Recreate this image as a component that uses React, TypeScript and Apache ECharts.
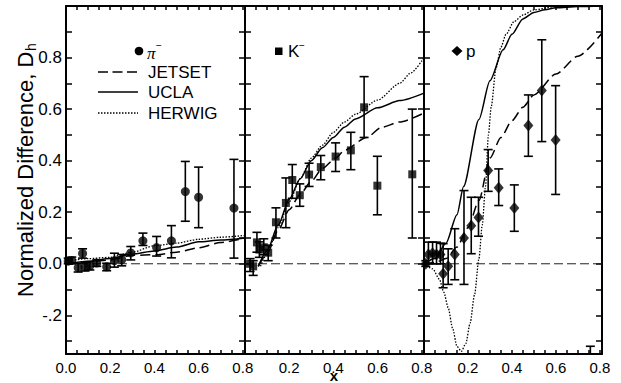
import React, { useEffect, useRef } from 'react';
import * as echarts from 'echarts';

const X_MAX = 0.81;
const Y_MIN = -0.35;
const Y_MAX = 1.0;

const xTickValues = [0, 0.05, 0.1, 0.15, 0.2, 0.25, 0.3, 0.35, 0.4, 0.45, 0.5, 0.55, 0.6, 0.65, 0.7, 0.75, 0.8];
const xLabelsFirst = [0, 0.2, 0.4, 0.6, 0.8];
const xLabelsOther = [0.2, 0.4, 0.6, 0.8];
const yTickValues = [-0.3, -0.2, -0.1, 0, 0.1, 0.2, 0.3, 0.4, 0.5, 0.6, 0.7, 0.8, 0.9];
const yLabelValues = [-0.2, 0, 0.2, 0.4, 0.6, 0.8];

// pi- data
const piX = [0.01, 0.026, 0.055, 0.075, 0.086, 0.108, 0.139, 0.184, 0.219, 0.252, 0.293, 0.348, 0.41, 0.477, 0.54, 0.6, 0.76];
const piY = [0.01, 0.013, -0.015, 0.04, -0.012, -0.008, 0.003, -0.012, 0.012, 0.016, 0.042, 0.089, 0.063, 0.089, 0.28, 0.258, 0.216];
const piLo = [0.0, 0.0, -0.032, 0.022, -0.028, -0.024, -0.01, -0.027, -0.013, -0.008, 0.015, 0.071, 0.03, 0.023, 0.165, 0.14, 0.022];
const piHi = [0.022, 0.026, 0.002, 0.058, 0.004, 0.008, 0.015, 0.002, 0.041, 0.036, 0.067, 0.119, 0.106, 0.148, 0.397, 0.375, 0.405];

// K- data
const kX = [0.023, 0.037, 0.054, 0.065, 0.085, 0.105, 0.14, 0.185, 0.214, 0.248, 0.29, 0.343, 0.41, 0.479, 0.539, 0.599, 0.757];
const kY = [0.0, -0.01, 0.083, 0.055, 0.064, 0.043, 0.161, 0.236, 0.325, 0.266, 0.346, 0.375, 0.416, 0.44, 0.607, 0.303, 0.347];
const kLo = [-0.03, -0.045, 0.045, 0.025, 0.035, 0.012, 0.1, 0.14, 0.254, 0.223, 0.3, 0.326, 0.358, 0.365, 0.49, 0.19, 0.1];
const kHi = [0.02, 0.012, 0.122, 0.085, 0.097, 0.072, 0.217, 0.333, 0.385, 0.31, 0.39, 0.42, 0.469, 0.51, 0.726, 0.417, 0.6];

// p data
const pX = [0.008, 0.02, 0.039, 0.057, 0.075, 0.087, 0.11, 0.14, 0.182, 0.215, 0.248, 0.292, 0.34, 0.411, 0.475, 0.536, 0.599, 0.757];
const pY = [0.0, 0.036, 0.041, 0.036, 0.036, -0.039, -0.01, 0.036, 0.1, 0.148, 0.18, 0.362, 0.295, 0.216, 0.536, 0.672, 0.48, -0.4];
const pLo = [-0.01, 0.0, 0.0, 0.0, 0.0, -0.093, -0.08, -0.062, -0.08, 0.039, 0.107, 0.281, 0.226, 0.126, 0.417, 0.474, 0.269, -0.5];
const pHi = [0.012, 0.084, 0.084, 0.084, 0.08, 0.078, 0.058, 0.136, 0.284, 0.258, 0.258, 0.443, 0.368, 0.306, 0.655, 0.869, 0.691, -0.32];

// model curves [x, y]
const piJetset = [[0, 0], [0.1, 0.008], [0.2, 0.015], [0.3, 0.033], [0.41, 0.035], [0.5, 0.045], [0.6, 0.062], [0.7, 0.083], [0.81, 0.1]];
const piUcla = [[0, 0], [0.1, 0.01], [0.2, 0.02], [0.3, 0.038], [0.4, 0.05], [0.5, 0.065], [0.6, 0.085], [0.7, 0.092], [0.81, 0.1]];
const piHerwig = [[0, 0.01], [0.1, 0.02], [0.2, 0.025], [0.3, 0.045], [0.4, 0.07], [0.5, 0.08], [0.6, 0.095], [0.7, 0.103], [0.81, 0.11]];

const kJetset = [[0.06, -0.01], [0.1, 0.04], [0.15, 0.13], [0.2, 0.21], [0.25, 0.27], [0.3, 0.32], [0.35, 0.37], [0.41, 0.41], [0.45, 0.44], [0.55, 0.49], [0.62, 0.53], [0.7, 0.55], [0.81, 0.585]];
const kUcla = [[0.06, -0.01], [0.1, 0.05], [0.15, 0.15], [0.2, 0.25], [0.25, 0.33], [0.3, 0.4], [0.35, 0.45], [0.4, 0.49], [0.45, 0.53], [0.5, 0.562], [0.6, 0.605], [0.7, 0.633], [0.81, 0.662]];
const kHerwig = [[0.07, -0.01], [0.1, 0.04], [0.15, 0.14], [0.2, 0.24], [0.25, 0.33], [0.3, 0.41], [0.35, 0.46], [0.4, 0.51], [0.45, 0.55], [0.5, 0.58], [0.6, 0.635], [0.7, 0.7], [0.75, 0.74], [0.81, 0.8]];

const pJetset = [[0, 0], [0.05, 0.005], [0.1, 0.02], [0.15, 0.065], [0.2, 0.14], [0.25, 0.245], [0.3, 0.41], [0.35, 0.49], [0.4, 0.555], [0.45, 0.607], [0.5, 0.655], [0.6, 0.736], [0.7, 0.805], [0.81, 0.895]];
const pUcla = [[0, 0], [0.05, 0.02], [0.1, 0.08], [0.15, 0.19], [0.18, 0.3], [0.25, 0.56], [0.3, 0.71], [0.36, 0.83], [0.4, 0.89], [0.45, 0.95], [0.5, 0.975], [0.55, 0.985], [0.6, 0.993], [0.7, 0.998], [0.81, 1.0]];
const pHerwig = [[0, 0], [0.04, -0.02], [0.07, -0.06], [0.09, -0.11], [0.11, -0.17], [0.13, -0.25], [0.15, -0.32], [0.17, -0.34], [0.19, -0.31], [0.21, -0.23], [0.23, -0.12], [0.25, 0.02], [0.265, 0.15], [0.28, 0.3], [0.293, 0.5], [0.306, 0.61], [0.328, 0.76], [0.35, 0.84], [0.373, 0.89], [0.41, 0.94], [0.45, 0.965], [0.5, 0.985], [0.6, 0.998], [0.81, 1.0]];

const PANEL_LEFT = [66, 245, 424];
const PANEL_WIDTH = [179, 179, 178];
const PANEL_TOP = 6;
const PANEL_HEIGHT = 348;
const FONT = '"Liberation Sans", Arial, Helvetica, sans-serif';

function fmtY(v: number) {
  if (Math.abs(v + 0.2) < 1e-6) return '-.2';
  return v.toFixed(1);
}

function buildOption() {
  const panels = [
    { x: piX, y: piY, lo: piLo, hi: piHi, symbol: 'circle', size: 9, jet: piJetset, ucla: piUcla, her: piHerwig },
    { x: kX, y: kY, lo: kLo, hi: kHi, symbol: 'rect', size: 8, jet: kJetset, ucla: kUcla, her: kHerwig },
    { x: pX, y: pY, lo: pLo, hi: pHi, symbol: 'diamond', size: [10, 12], jet: pJetset, ucla: pUcla, her: pHerwig },
  ];
  const grid: any[] = [];
  const xAxis: any[] = [];
  const yAxis: any[] = [];
  const series: any[] = [];
  const axisLine = { show: true, onZero: false, lineStyle: { color: '#000', width: 2 } };
  panels.forEach((p, i) => {
    grid.push({ left: PANEL_LEFT[i], top: PANEL_TOP, width: PANEL_WIDTH[i], height: PANEL_HEIGHT });
    xAxis.push({
      type: 'value', gridIndex: i, position: 'bottom', min: 0, max: X_MAX,
      axisLine, splitLine: { show: false },
      axisTick: { show: true, inside: true, length: 4, customValues: xTickValues, lineStyle: { color: '#000', width: 1.5 } },
      axisLabel: { show: true, customValues: i === 0 ? xLabelsFirst : xLabelsOther, formatter: (v: number) => v.toFixed(1), color: '#000', fontSize: 15, fontFamily: FONT, margin: 6, showMaxLabel: true, showMinLabel: true },
    });
    xAxis.push({
      type: 'value', gridIndex: i, position: 'top', min: 0, max: X_MAX,
      axisLine, splitLine: { show: false },
      axisTick: { show: true, inside: true, length: 4, customValues: xTickValues, lineStyle: { color: '#000', width: 1.5 } },
      axisLabel: { show: false },
    });
    yAxis.push({
      type: 'value', gridIndex: i, position: 'left', min: Y_MIN, max: Y_MAX,
      axisLine, splitLine: { show: false },
      axisTick: { show: true, inside: true, length: 6, customValues: yTickValues, lineStyle: { color: '#000', width: 1.5 } },
      axisLabel: { show: i === 0, customValues: yLabelValues, formatter: fmtY, color: '#000', fontSize: 17, fontFamily: FONT, margin: 4 },
    });
    yAxis.push({
      type: 'value', gridIndex: i, position: 'right', min: Y_MIN, max: Y_MAX,
      axisLine, splitLine: { show: false },
      axisTick: { show: true, inside: true, length: 6, customValues: yTickValues, lineStyle: { color: '#000', width: 1.5 } },
      axisLabel: { show: false },
    });
    const xi = 2 * i;
    const yi = 2 * i;
    series.push({
      type: 'line', xAxisIndex: xi, yAxisIndex: yi, data: [[0, 0], [X_MAX, 0]], symbol: 'none', silent: true,
      lineStyle: { color: '#222', width: 1, type: [9, 4] }, z: 1,
    });
    const lineCommon = { type: 'line', xAxisIndex: xi, yAxisIndex: yi, symbol: 'none', silent: true, smooth: 0.25, smoothMonotone: 'x', z: 2, clip: true };
    series.push({ ...lineCommon, name: 'JETSET', data: p.jet, lineStyle: { color: '#000', width: 1.5, type: [10, 5] } });
    series.push({ ...lineCommon, name: 'UCLA', data: p.ucla, lineStyle: { color: '#000', width: 1.5, type: 'solid' } });
    series.push({ ...lineCommon, name: 'HERWIG', data: p.her, lineStyle: { color: '#000', width: 1.3, type: [1.5, 1.5] } });
    const errData = p.x.map((x, k) => [x, p.lo[k], p.hi[k]]);
    series.push({
      type: 'custom', xAxisIndex: xi, yAxisIndex: yi, data: errData, z: 3, silent: true,
      encode: { x: 0, y: [1, 2] },
      renderItem: (params: any, api: any) => {
        const x = api.value(0);
        const lo = api.value(1);
        const hi = api.value(2);
        const loC = Math.max(lo, Y_MIN);
        const hiC = Math.min(hi, Y_MAX);
        const a = api.coord([x, loC]);
        const b = api.coord([x, hiC]);
        const st = { stroke: '#000', lineWidth: 1.6 };
        const children: any[] = [
          { type: 'line', shape: { x1: a[0], y1: a[1], x2: b[0], y2: b[1] }, style: st },
        ];
        if (lo >= Y_MIN) children.push({ type: 'line', shape: { x1: a[0] - 4.5, y1: a[1], x2: a[0] + 4.5, y2: a[1] }, style: st });
        if (hi <= Y_MAX) children.push({ type: 'line', shape: { x1: b[0] - 4.5, y1: b[1], x2: b[0] + 4.5, y2: b[1] }, style: st });
        return { type: 'group', children };
      },
    });
    const pts = p.x.map((x, k) => [x, p.y[k]]).filter((d) => d[1] >= Y_MIN && d[1] <= Y_MAX);
    series.push({
      type: 'scatter', xAxisIndex: xi, yAxisIndex: yi, data: pts, symbol: p.symbol, symbolSize: p.size,
      itemStyle: { color: '#000' }, z: 4, silent: true,
    });
  });

  const txt = (text: string, x: number, y: number, size: number, extra: any = {}) => ({
    type: 'text', x, y, style: { text, fill: '#000', font: `${size}px ${FONT}`, textVerticalAlign: 'middle', ...extra },
  });

  const graphic: any[] = [
    // legend: left panel
    { type: 'circle', shape: { cx: 139, cy: 51, r: 4.3 }, style: { fill: '#000' } },
    { type: 'text', x: 147, y: 53, style: { text: 'π', fill: '#000', font: `italic 17px "Liberation Serif", "Times New Roman", serif`, textVerticalAlign: 'middle' } },
    txt('−', 156, 45, 10),
    { type: 'line', shape: { x1: 98, y1: 72, x2: 138, y2: 72 }, style: { stroke: '#000', lineWidth: 1.5, lineDash: [10, 4.5] } },
    txt('JETSET', 148, 72, 17),
    { type: 'line', shape: { x1: 98, y1: 92, x2: 138, y2: 92 }, style: { stroke: '#000', lineWidth: 1.5 } },
    txt('UCLA', 148, 92.5, 17),
    { type: 'line', shape: { x1: 98, y1: 113, x2: 138, y2: 113 }, style: { stroke: '#000', lineWidth: 1.3, lineDash: [1.5, 1.5] } },
    txt('HERWIG', 148, 113.5, 17),
    // middle legend
    { type: 'rect', shape: { x: 275, y: 47.5, width: 7.5, height: 7.5 }, style: { fill: '#000' } },
    txt('K', 288, 51.5, 17),
    txt('−', 299, 45, 10),
    // right legend
    { type: 'polygon', shape: { points: [[457, 46], [462.5, 51], [457, 56], [451.5, 51]] }, style: { fill: '#000' } },
    txt('p', 466, 51.5, 17),
    // x axis name
    txt('x', 334, 375, 15, { textAlign: 'center', font: `bold 15px ${FONT}` }),
    // y axis name
    {
      type: 'group', x: 25.5, y: 297, rotation: Math.PI / 2,
      children: [
        { type: 'text', x: 0, y: 0, style: { text: 'Normalized Difference, D', fill: '#000', font: `22px ${FONT}`, textVerticalAlign: 'middle', textAlign: 'left' } },
        { type: 'text', x: 246, y: 5, style: { text: 'h', fill: '#000', font: `14px ${FONT}`, textVerticalAlign: 'middle', textAlign: 'left' } },
      ],
    },
  ];

  return {
    animation: false,
    backgroundColor: '#fff',
    grid, xAxis, yAxis, series, graphic,
  };
}

export default function App() {
  const ref = useRef<HTMLDivElement>(null);
  useEffect(() => {
    const chart = echarts.init(ref.current as HTMLDivElement, null, { renderer: 'svg' });
    chart.setOption(buildOption() as any);
    return () => chart.dispose();
  }, []);
  return <div ref={ref} style={{ width: 621, height: 383, position: 'absolute', left: 0, top: 0 }} />;
}
